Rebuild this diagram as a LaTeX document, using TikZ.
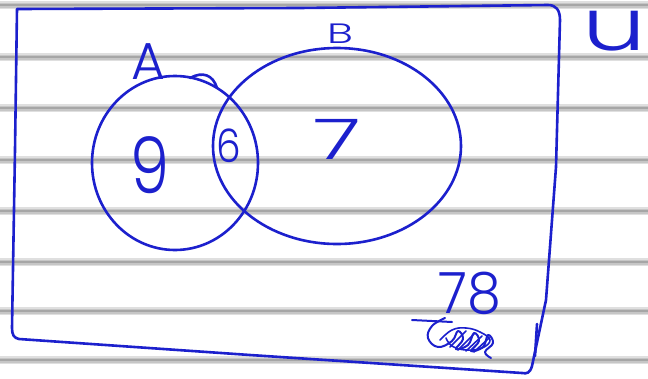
\documentclass[tikz,border=0pt]{standalone}
\usepackage{fontspec}
\newfontfamily\hand{Poppins Light}
\definecolor{handblue}{RGB}{28,32,205}
\begin{document}
\begin{tikzpicture}[x=1pt,y=-1pt,
  ink/.style={draw=handblue, line width=2.6pt, line cap=round, line join=round},
  lbl/.style={text=handblue, inner sep=0pt, font=\hand},
  rule1/.style={draw=gray!25, line width=8pt},
  rule2/.style={draw=gray!45, line width=5pt},
  rule3/.style={draw=gray!70, line width=2pt}]
\useasboundingbox (0,0) rectangle (648,378);
\fill[white] (0,0) rectangle (648,378);
% ruled paper
\foreach \yy in {5,57,108,160,211,262,311,360} {
  \draw[rule1] (0,\yy) -- (648,\yy);
  \draw[rule2] (0,\yy) -- (648,\yy);
  \draw[rule3] (0,\yy) -- (648,\yy);
}
% universal set box
\draw[ink] (17,9) -- (300,8) -- (548,5) .. controls (556,5) and (560,10) .. (560,20)
  -- (556,167) -- (546,300) -- (532,366) .. controls (530,373) and (527,374) .. (522,373)
  -- (250,355) -- (19,339) .. controls (14,338) and (12,335) .. (12,328) -- (15,150) -- cycle;
\draw[ink] (537,324) -- (535,356);
% set A
\draw[ink] (175,163) ellipse[x radius=83, y radius=87];
\draw[ink] (190,78) .. controls (203,71) and (213,75) .. (217,88);
% set B
\draw[ink] (337,146) ellipse[x radius=124, y radius=98];
% labels
\node[lbl, font=\hand\fontsize{52}{54}\selectfont, xscale=1.0] (labA) at (148,62) {A};
\node[lbl, font=\hand\fontsize{28}{30}\selectfont, xscale=1.55] (labB) at (340,34) {B};
\node[lbl, font=\hand\fontsize{78}{80}\selectfont, xscale=0.8] (nA) at (150,165) {9};
\node[lbl, font=\hand\fontsize{46}{48}\selectfont, xscale=0.85] (nAB) at (229,146) {6};
\node[lbl, font=\hand\fontsize{56}{58}\selectfont, xscale=1.6] (nB) at (337,139) {7};
\node[lbl, font=\hand\fontsize{57}{59}\selectfont, xscale=0.95] (nU) at (470,293) {78};
\node[lbl, font=\hand\fontsize{72}{74}\selectfont, xscale=1.4] (labU) at (614,31) {u};
% crossed-out scribble
\draw[ink, line width=2pt] (412,320) -- (452,322);
\draw[ink, line width=2pt] plot[smooth, tension=0.7] coordinates {
  (445,318) (432,326) (428,338) (438,347) (452,341) (458,331) (463,339) (456,349)
  (468,345) (474,333) (479,341) (471,351) (483,347) (488,335) (493,343) (485,352) (491,358)};
\draw[ink, line width=1.6pt] plot[smooth, tension=0.7] coordinates {
  (440,340) (452,330) (466,328) (480,332) (490,340) (482,348) (466,350) (452,346) (446,338)};
\draw[ink, line width=1.6pt] (450,347) -- (466,331) (458,350) -- (474,334) (466,351) -- (482,336)
  (474,352) -- (489,338);
\end{tikzpicture}
\end{document}
